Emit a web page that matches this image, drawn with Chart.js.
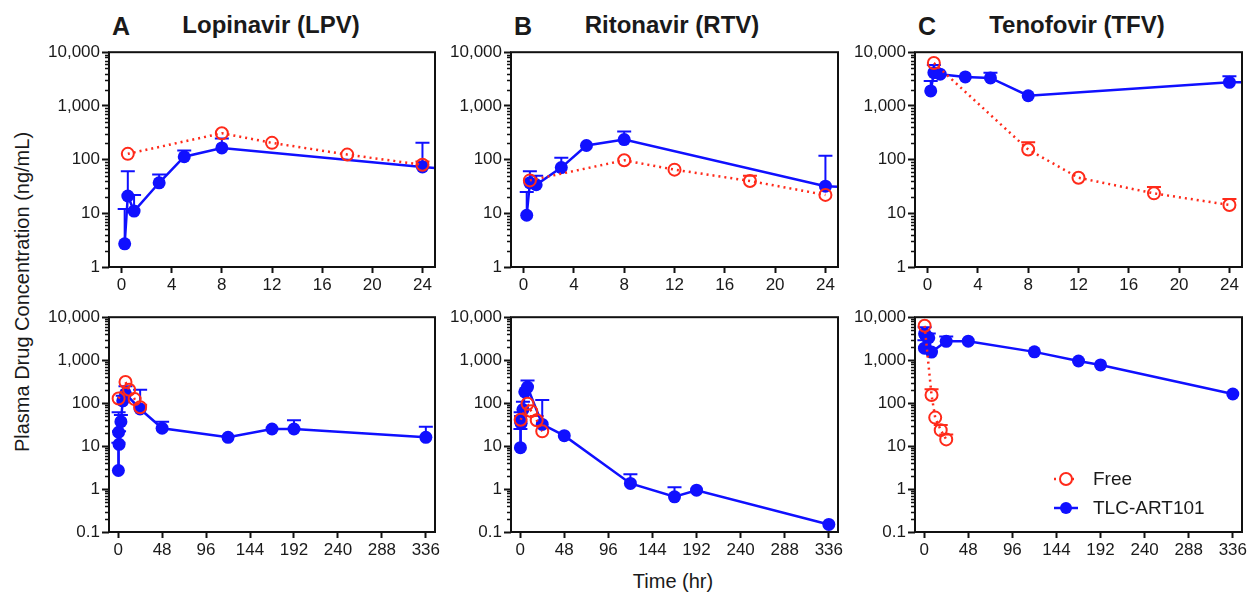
<!DOCTYPE html>
<html>
<head>
<meta charset="utf-8">
<script src="https://cdn.jsdelivr.net/npm/chart.js@4/dist/chart.umd.min.js"></script>
<style>
  body { margin: 0; background: #fff; width: 1250px; height: 592px; position: relative; overflow: hidden;
         font-family: "Liberation Sans", Arial, sans-serif; color: #1a1a1a; }
  canvas { position: absolute; }
  .txt { position: absolute; white-space: nowrap; line-height: 1; }
  .letter { font-size: 25px; font-weight: bold; transform: translateX(-50%); }
  .title { font-size: 24px; font-weight: bold; transform: translateX(-50%); }
</style>
</head>
<body>
<div class="txt letter" style="left:121px;top:14px">A</div>
<div class="txt title" style="left:271px;top:13px">Lopinavir (LPV)</div>
<div class="txt letter" style="left:523px;top:14px">B</div>
<div class="txt title" style="left:672px;top:13px">Ritonavir (RTV)</div>
<div class="txt letter" style="left:927px;top:14px">C</div>
<div class="txt title" style="left:1077px;top:13px">Tenofovir (TFV)</div>
<div class="txt" style="left:22px;top:292px;font-size:20px;transform:translate(-50%,-50%) rotate(-90deg)">Plasma Drug Concentration (ng/mL)</div>
<div class="txt" style="left:673px;top:571px;font-size:20px;transform:translateX(-50%)">Time (hr)</div>

<script>
// sampling times (hr)
const freeTimes = [0.5, 8, 12, 18, 24];
const tlcTimes = [0.25, 0.5, 1, 3, 5, 8, 24, 48, 120, 168, 192, 336];

// tick labels
const shortTimeTicks = [0, 4, 8, 12, 16, 20, 24];
const longTimeTicks = [0, 48, 96, 144, 192, 240, 288, 336];
const shortConcTicks = [1, 10, 100, 1000, 10000];
const longConcTicks = [0.1, 1, 10, 100, 1000, 10000];

// Lopinavir (ng/mL), mean and top of error bar
const lpvFree = [128, 310, 205, 124, 80];
const lpvFreeErr = [null, null, null, null, 92];
const lpvTlc = [2.7, 21, 11, 37, 113, 165, 73, 26, 16, 25, 25, 16];
const lpvTlcErr = [12, 61, 22, 53, 148, 246, 205, 37, null, null, 40, 28];

// Ritonavir
const rtvFree = [41, 97, 65, 40, 22];
const rtvFreeErr = [null, null, null, 50, null];
const rtvTlc = [9.2, 37, 34, 71, 183, 236, 32, 17.5, 1.35, 0.66, 0.94, 0.15];
const rtvTlcErr = [25, 61, 50, 108, null, 335, 118, null, 2.2, 1.1, null, null];

// Tenofovir
const tfvFree = [6300, 154, 46, 23.5, 14.3];
const tfvFreeErr = [null, 210, null, 31, 18.5];
const tfvTlc = [1900, 4150, 3900, 3460, 3320, 1545, 2750, 2760, 1560, 955, 775, 163];
const tfvTlcErr = [2900, 5800, null, null, 4150, null, 3560, null, null, null, null, null];

const RED = "#ff2a1a";
const BLUE = "#1010ff";
const FONT = "'Liberation Sans', Arial, sans-serif";
const INK = "#1a1a1a";

const colLeft = [109, 511, 915];
const colRight = [435, 838, 1242];
const rowTop = [50, 315];
const rowBottom = [267, 532];

const decor = {
  id: "decor",
  beforeDatasetsDraw(chart) {
    const { ctx, scales: { x, y } } = chart;
    chart.data.datasets.forEach((ds) => {
      ctx.save();
      ctx.strokeStyle = ds.borderColor;
      ctx.lineWidth = 2;
      ds.data.forEach((p, i) => {
        const hi = ds.errHi[i];
        if (hi == null || p.x > x.max) return;
        const px = x.getPixelForValue(p.x);
        const y0 = y.getPixelForValue(p.y) - (ds.hollow ? 6 : 0);
        const y1 = y.getPixelForValue(hi);
        ctx.beginPath();
        ctx.moveTo(px, y0);
        ctx.lineTo(px, y1);
        ctx.moveTo(px - 7, y1);
        ctx.lineTo(px + 7, y1);
        ctx.stroke();
      });
      ctx.restore();
    });
  },
  afterDraw(chart) {
    const { ctx, chartArea: a, scales: { y } } = chart;
    ctx.save();
    ctx.strokeStyle = "#111";
    ctx.lineWidth = 2;
    ctx.strokeRect(a.left, a.top, a.right - a.left, a.bottom - a.top);

    // minor log ticks
    ctx.lineWidth = 1.5;
    ctx.beginPath();
    const d0 = Math.round(Math.log10(y.min));
    const d1 = Math.round(Math.log10(y.max));
    for (let d = d0; d < d1; d++) {
      for (let m = 2; m <= 9; m++) {
        const py = Math.round(y.getPixelForValue(m * Math.pow(10, d))) + 0.5;
        ctx.moveTo(a.left - 4, py);
        ctx.lineTo(a.left, py);
      }
    }
    ctx.stroke();
    ctx.restore();
  },
};

// legend drawn inside the plot of the last panel (pos is in page pixels)
function legendBox(pos) {
  return {
    id: "legendBox",
    afterDraw(chart) {
      const ctx = chart.ctx;
      const ox = parseFloat(chart.canvas.style.left);
      const oy = parseFloat(chart.canvas.style.top);
      ctx.save();
      chart.data.datasets.forEach((ds, i) => {
        const lx = pos.x - ox;
        const ly = pos.y - oy + i * 29;
        ctx.strokeStyle = ds.borderColor;
        ctx.lineWidth = ds.borderWidth;
        ctx.setLineDash(ds.borderDash || []);
        ctx.beginPath();
        ctx.moveTo(lx - 12, ly);
        ctx.lineTo(lx + 12, ly);
        ctx.stroke();
        ctx.setLineDash([]);
        ctx.beginPath();
        ctx.arc(lx, ly, 6, 0, Math.PI * 2);
        if (ds.hollow) {
          ctx.fillStyle = "#fff";
          ctx.fill();
          ctx.lineWidth = 2;
          ctx.stroke();
        } else {
          ctx.fillStyle = ds.borderColor;
          ctx.fill();
        }
        ctx.fillStyle = INK;
        ctx.font = "19px " + FONT;
        ctx.textBaseline = "middle";
        ctx.fillText(ds.label, lx + 27, ly + 1);
      });
      ctx.restore();
    },
  };
}

function makePanel(col, row, free, freeErr, tlc, tlcErr, legend) {
  const long = row === 1;
  const L = colLeft[col], R = colRight[col], T = rowTop[row], B = rowBottom[row];
  const canvas = document.createElement("canvas");
  canvas.width = R - L + 90;
  canvas.height = B - T + 50;
  canvas.style.left = L - 80 + "px";
  canvas.style.top = T - 10 + "px";
  document.body.appendChild(canvas);

  const xTicks = long ? longTimeTicks : shortTimeTicks;
  const yTicks = long ? longConcTicks : shortConcTicks;
  const plugins = [decor];
  if (legend) plugins.push(legendBox(legend));

  new Chart(canvas, {
    type: "line",
    data: {
      datasets: [
        {
          label: "Free",
          data: freeTimes.map((t, i) => ({ x: t, y: free[i] })),
          errHi: freeErr,
          hollow: true,
          borderColor: RED,
          borderWidth: 2.5,
          borderDash: [2, 4],
          pointRadius: 6,
          pointBorderWidth: 2,
          pointBackgroundColor: "rgba(255,255,255,0)",
          pointBorderColor: RED,
          clip: { left: 8, top: 8, right: 0, bottom: 8 },
        },
        {
          label: "TLC-ART101",
          data: tlcTimes.map((t, i) => ({ x: t, y: tlc[i] })),
          errHi: tlcErr,
          hollow: false,
          borderColor: BLUE,
          borderWidth: 2.5,
          pointRadius: 6.5,
          pointBorderWidth: 0,
          pointBackgroundColor: BLUE,
          clip: { left: 8, top: 8, right: 0, bottom: 8 },
        },
      ],
    },
    options: {
      responsive: false,
      animation: false,
      events: [],
      layout: { padding: { top: 10, right: 10, left: 0, bottom: 0 } },
      plugins: {
        legend: { display: false },
        tooltip: { enabled: false },
      },
      scales: {
        x: {
          type: "linear",
          min: long ? -10 : -1,
          max: long ? 346 : 25,
          afterBuildTicks: (s) => { s.ticks = xTicks.map((v) => ({ value: v })); },
          afterFit: (s) => { s.height = 40; },
          border: { display: false },
          grid: { drawOnChartArea: false, tickLength: 6, tickWidth: 2, tickColor: "#111" },
          ticks: { font: { family: FONT, size: 17 }, color: INK, padding: 2, maxRotation: 0, autoSkip: false },
        },
        y: {
          type: "logarithmic",
          min: long ? 0.1 : 1,
          max: 10000,
          afterBuildTicks: (s) => { s.ticks = yTicks.map((v) => ({ value: v })); },
          afterFit: (s) => { s.width = 80; },
          border: { display: false },
          grid: { drawOnChartArea: false, tickLength: 7, tickWidth: 2, tickColor: "#111" },
          ticks: {
            font: { family: FONT, size: 17 },
            color: INK,
            padding: 2,
            callback: (v) => Number(v).toLocaleString("en-US"),
          },
        },
      },
    },
    plugins,
  });
}

makePanel(0, 0, lpvFree, lpvFreeErr, lpvTlc, lpvTlcErr, null);
makePanel(1, 0, rtvFree, rtvFreeErr, rtvTlc, rtvTlcErr, null);
makePanel(2, 0, tfvFree, tfvFreeErr, tfvTlc, tfvTlcErr, null);
makePanel(0, 1, lpvFree, lpvFreeErr, lpvTlc, lpvTlcErr, null);
makePanel(1, 1, rtvFree, rtvFreeErr, rtvTlc, rtvTlcErr, null);
makePanel(2, 1, tfvFree, tfvFreeErr, tfvTlc, tfvTlcErr, { x: 1066, y: 479 });
</script>
</body>
</html>
